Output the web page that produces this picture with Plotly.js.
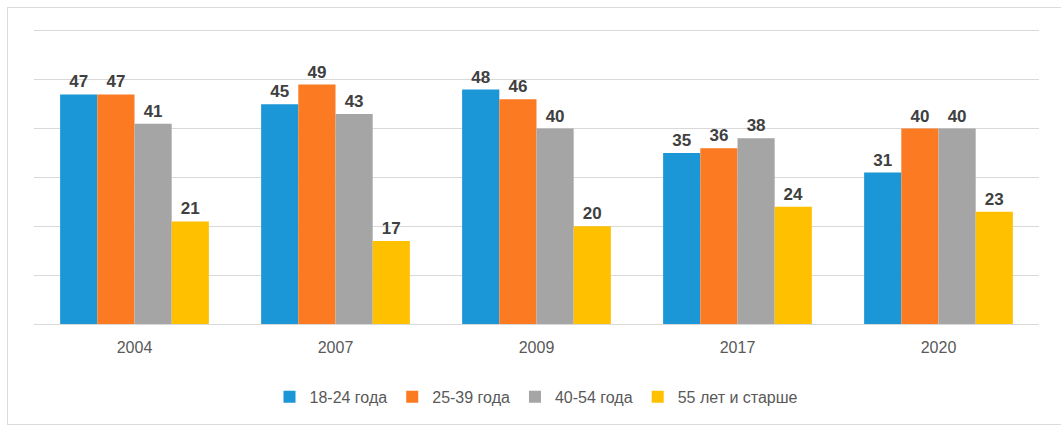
<!DOCTYPE html>
<html><head><meta charset="utf-8">
<script src="https://cdn.plot.ly/plotly-3.0.1.min.js"></script>
<style>
html,body{margin:0;padding:0;background:#fff;overflow:hidden;}
#frame{position:absolute;left:7px;top:7px;width:1070px;height:418px;border:1px solid #dcdcdc;box-sizing:border-box;}
#chart{position:absolute;left:0;top:0;width:1061px;height:425px;}
</style></head>
<body>
<div id="frame"></div>
<div id="chart"></div>
<script>
const years = ['2004','2007','2009','2017','2020'];
const seriesNames = ['18-24 года','25-39 года','40-54 года','55 лет и старше'];
const s18_24 = [47,45,48,35,31];
const s25_39 = [47,49,46,36,40];
const s40_54 = [41,43,40,38,40];
const s55plus = [21,17,20,24,23];
const colors = ['#1b96d6','#fb7a22','#a5a5a5','#ffc000'];
const values = [s18_24,s25_39,s40_54,s55plus];

const traces = values.map((v,i)=>({
  type:'bar', x:years, y:v, name:seriesNames[i],
  marker:{color:colors[i]},
  text:v.map(String), textposition:'outside', cliponaxis:false,
  textfont:{family:'Liberation Sans, Arial, sans-serif', size:17, color:'#404040', weight:'bold'},
  hoverinfo:'none'
}));

const layout = {
  width:1061, height:425,
  margin:{l:34, r:22, t:26, b:100},
  paper_bgcolor:'rgba(0,0,0,0)', plot_bgcolor:'rgba(0,0,0,0)',
  barmode:'group', bargap:0.26, bargroupgap:0,
  font:{family:'Liberation Sans, Arial, sans-serif', color:'#595959', size:16},
  xaxis:{type:'category', showline:false, ticks:'', tickfont:{size:16,color:'#595959'}, ticklabelstandoff:12},
  yaxis:{range:[0,61], tickvals:[0,10,20,30,40,50,60], showticklabels:false, showgrid:true, gridcolor:'#d9d9d9', gridwidth:1, zeroline:true, zerolinecolor:'#d9d9d9', zerolinewidth:1},
  showlegend:true,
  legend:{orientation:'h', x:0.5, xanchor:'center', y:-0.24, yanchor:'middle', font:{size:16,color:'#595959'}, itemwidth:30, traceorder:'normal'}
};
Plotly.newPlot('chart', traces, layout, {displayModeBar:false, staticPlot:true});
</script>
</body></html>
